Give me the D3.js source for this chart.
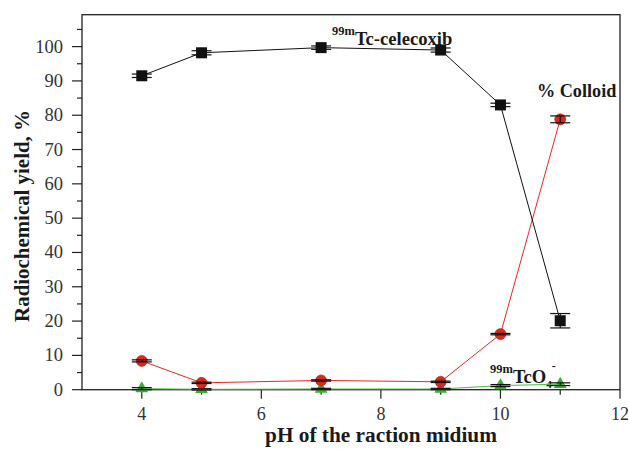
<!DOCTYPE html>
<html>
<head>
<meta charset="utf-8">
<script src="https://cdn.jsdelivr.net/npm/d3@7"></script>
<style>
  body { margin: 0; background: #fff; }
</style>
</head>
<body>
<div id="chart"></div>
<script>
// data
const ph = [4, 5, 7, 9, 10, 11];
const celecoxib = [91.5, 98.2, 99.7, 99.0, 83.0, 20.1];
const celecoxibErr = [0.5, 0.6, 0.5, 0.6, 0.5, 2.1];
const colloid = [8.4, 2.0, 2.7, 2.3, 16.2, 78.8];
const colloidErr = [0.3, 0.2, 0.2, 0.2, 0.2, 1.0];
const pertech = [0.3, 0.1, 0.2, 0.2, 1.2, 1.6];
const pertechErr = [0.3, 0.2, 0.2, 0.2, 0.3, 0.4];
const xMajor = [4, 6, 8, 10, 12];
const xMinor = [5, 7, 9, 11];
const yMajor = [0, 10, 20, 30, 40, 50, 60, 70, 80, 90, 100];
const yMinor = [5, 15, 25, 35, 45, 55, 65, 75, 85, 95, 105];

const W = 629, H = 449;
const plotL = 82, plotR = 620, plotT = 14.7, plotB = 389.7;
const serif = '"Liberation Serif", "Times New Roman", Tinos, serif';

const svg = d3.select('#chart').append('svg')
  .attr('width', W)
  .attr('height', H)
  .style('font-family', serif);

const x = d3.scaleLinear().domain([3, 12]).range([plotL, plotR]);
const y = d3.scaleLinear().domain([0, 109.3]).range([plotB, plotT]);

const axisColor = '#222';

// frame
svg.append('rect')
  .attr('x', plotL).attr('y', plotT)
  .attr('width', plotR - plotL).attr('height', plotB - plotT)
  .attr('fill', 'none')
  .attr('stroke', axisColor)
  .attr('stroke-width', 1.3);

// y axis ticks
const yAxis = svg.append('g').attr('class', 'y-axis');
yAxis.selectAll('line.major').data(yMajor).enter().append('line')
  .attr('x1', plotL - 10).attr('x2', plotL)
  .attr('y1', d => y(d)).attr('y2', d => y(d))
  .attr('stroke', axisColor).attr('stroke-width', 1.2);
yAxis.selectAll('line.minor').data(yMinor).enter().append('line')
  .attr('x1', plotL - 5).attr('x2', plotL)
  .attr('y1', d => y(d)).attr('y2', d => y(d))
  .attr('stroke', axisColor).attr('stroke-width', 1.2);
yAxis.selectAll('text').data(yMajor).enter().append('text')
  .attr('x', plotL - 19)
  .attr('y', d => y(d) + 6)
  .attr('text-anchor', 'end')
  .attr('font-size', 18.5)
  .attr('fill', '#333')
  .style('font-family', serif)
  .text(d => d);

// x axis ticks
const xAxis = svg.append('g').attr('class', 'x-axis');
xAxis.selectAll('line.major').data(xMajor).enter().append('line')
  .attr('x1', d => x(d)).attr('x2', d => x(d))
  .attr('y1', plotB).attr('y2', plotB + 9)
  .attr('stroke', axisColor).attr('stroke-width', 1.2);
xAxis.selectAll('line.minor').data(xMinor).enter().append('line')
  .attr('x1', d => x(d)).attr('x2', d => x(d))
  .attr('y1', plotB).attr('y2', plotB + 5)
  .attr('stroke', axisColor).attr('stroke-width', 1.2);
xAxis.selectAll('text').data(xMajor).enter().append('text')
  .attr('x', d => x(d))
  .attr('y', plotB + 30.5)
  .attr('text-anchor', 'middle')
  .attr('font-size', 18)
  .attr('fill', '#333')
  .style('font-family', serif)
  .text(d => d);

// axis titles
svg.append('text')
  .attr('transform', 'translate(28.5,216) rotate(-90)')
  .attr('text-anchor', 'middle')
  .attr('font-size', 20.9)
  .attr('font-weight', 'bold')
  .attr('fill', '#1a1a1a')
  .style('font-family', serif)
  .text('Radiochemical yield, %');

svg.append('text')
  .attr('x', 381)
  .attr('y', 441.5)
  .attr('text-anchor', 'middle')
  .attr('font-size', 21.3)
  .attr('font-weight', 'bold')
  .attr('fill', '#1a1a1a')
  .style('font-family', serif)
  .text('pH of the raction midium');

// annotations
const lab1 = svg.append('text')
  .attr('x', 332).attr('y', 45)
  .attr('font-weight', 'bold').attr('fill', '#1a1a1a')
  .style('font-family', serif);
lab1.append('tspan').attr('font-size', 12.5).attr('dy', -10).text('99m');
lab1.append('tspan').attr('font-size', 18.6).attr('dy', 10).text('Tc-celecoxib');

svg.append('text')
  .attr('x', 537).attr('y', 97)
  .attr('font-size', 18.2)
  .attr('font-weight', 'bold')
  .attr('fill', '#1a1a1a')
  .style('font-family', serif)
  .text('% Colloid');

const lab3 = svg.append('text')
  .attr('x', 490).attr('y', 383)
  .attr('font-weight', 'bold').attr('fill', '#1a1a1a')
  .style('font-family', serif);
lab3.append('tspan').attr('font-size', 12.5).attr('dy', -10).text('99m');
lab3.append('tspan').attr('font-size', 18.6).attr('dy', 10).text('TcO');
lab3.append('tspan').attr('font-size', 11).attr('dy', 5).text('4');
lab3.append('tspan').attr('font-size', 12).attr('dx', 0).attr('dy', -18).text('-');

const line = d3.line().x(d => x(d[0])).y(d => y(d[1]));

function drawSeries(vals, errs, color, lineColor, shape) {
  const pts = ph.map((p, i) => [p, vals[i], errs[i]]);
  const g = svg.append('g');
  g.append('path')
    .datum(pts)
    .attr('d', line)
    .attr('fill', 'none')
    .attr('stroke', lineColor)
    .attr('stroke-width', 1);

  const marks = g.selectAll('g.pt').data(pts).enter().append('g')
    .attr('transform', d => `translate(${x(d[0])},${y(d[1])})`);

  if (shape === 'square') {
    marks.append('rect')
      .attr('x', -5.5).attr('y', -5.5).attr('width', 11).attr('height', 11)
      .attr('fill', color);
  } else if (shape === 'circle') {
    marks.append('circle')
      .attr('r', 5.5)
      .attr('fill', color)
      .attr('stroke', '#b01a10').attr('stroke-width', 0.6);
  } else {
    marks.append('path')
      .attr('d', d3.symbol().type(d3.symbolTriangle).size(70))
      .attr('fill', color);
  }

  // error bars
  const eb = g.selectAll('g.eb').data(pts).enter().append('g')
    .attr('stroke', '#111').attr('stroke-width', 1.2);
  eb.append('line')
    .attr('x1', d => x(d[0])).attr('x2', d => x(d[0]))
    .attr('y1', d => y(d[1] - d[2])).attr('y2', d => y(d[1] + d[2]));
  eb.append('line')
    .attr('x1', d => x(d[0]) - 10).attr('x2', d => x(d[0]) + 10)
    .attr('y1', d => y(d[1] + d[2])).attr('y2', d => y(d[1] + d[2]));
  eb.append('line')
    .attr('x1', d => x(d[0]) - 10).attr('x2', d => x(d[0]) + 10)
    .attr('y1', d => y(d[1] - d[2])).attr('y2', d => y(d[1] - d[2]));
}

drawSeries(pertech, pertechErr, '#3cae32', '#4cbb3c', 'triangle');
drawSeries(colloid, colloidErr, '#d9281c', '#e8291e', 'circle');
drawSeries(celecoxib, celecoxibErr, '#111', '#111', 'square');
</script>
</body>
</html>
